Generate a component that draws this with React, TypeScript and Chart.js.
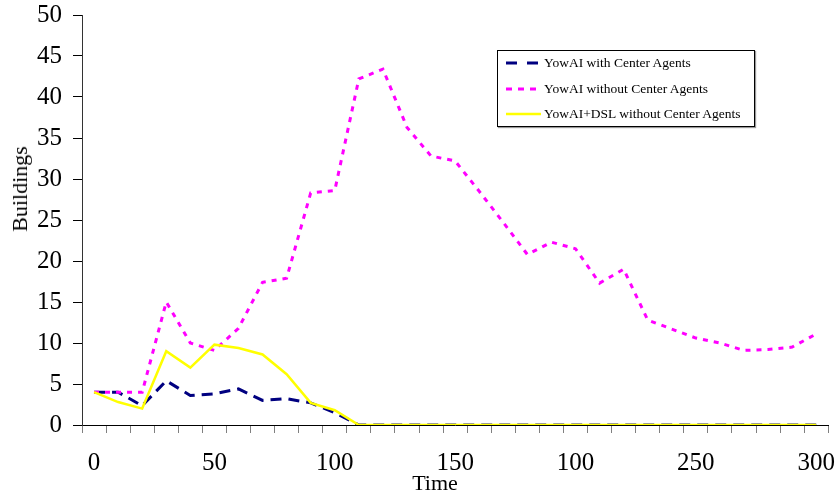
import React, { useEffect, useRef } from "react";
import { Chart, registerables } from "chart.js";

Chart.register(...registerables);

const categories = [0, 10, 20, 30, 40, 50, 60, 70, 80, 90, 100, 110, 120, 130, 140, 150, 160, 170, 180, 190, 200, 210, 220, 230, 240, 250, 260, 270, 280, 290, 300];
const tickLabels = ["0", "50", "100", "150", "100", "250", "300"];
const yTicks = [0, 5, 10, 15, 20, 25, 30, 35, 40, 45, 50];

const xTitle = "Time";
const yTitle = "Buildings";
const seriesNames = [
  "YowAI with Center Agents",
  "YowAI without Center Agents",
  "YowAI+DSL without Center Agents",
];

const withCenter = [4, 4, 2.35, 5.4, 3.6, 3.8, 4.4, 3.0, 3.2, 2.7, 1.5, 0, 0, 0, 0, 0, 0, 0, 0, 0, 0, 0, 0, 0, 0, 0, 0, 0, 0, 0, 0];
const withoutCenter = [4, 4, 4, 15, 10, 9.1, 11.8, 17.4, 17.9, 28.3, 28.6, 42.2, 43.4, 36.3, 32.8, 32.2, 28.5, 24.7, 20.8, 22.3, 21.5, 17.3, 19, 12.8, 11.7, 10.6, 10, 9.1, 9.2, 9.5, 11.1];
const dslWithout = [4, 2.8, 2.0, 9.0, 7.0, 9.8, 9.4, 8.6, 6.2, 2.7, 1.8, 0, 0, 0, 0, 0, 0, 0, 0, 0, 0, 0, 0, 0, 0, 0, 0, 0, 0, 0, 0];

const FONT = '"Liberation Serif", "Times New Roman", serif';
const NAVY = "#000080";
const MAGENTA = "#FF00FF";
const YELLOW = "#FFFF00";

function Sample({ color, dash, width }: { color: string; dash?: string; width: number }) {
  return (
    <svg width={36} height={8} style={{ position: "absolute", left: 8, top: -4 }}>
      <line x1={0} y1={4} x2={35} y2={4} stroke={color} strokeWidth={width} strokeDasharray={dash} />
    </svg>
  );
}

export default function App() {
  const ref = useRef<HTMLCanvasElement>(null);

  useEffect(() => {
    if (!ref.current) return;
    const chart = new Chart(ref.current, {
      type: "line",
      data: {
        labels: categories.map(String),
        datasets: [
          {
            label: seriesNames[2],
            data: dslWithout,
            borderColor: YELLOW,
            borderWidth: 2.5,
            pointRadius: 0,
            tension: 0,
            order: 0,
          },
          {
            label: seriesNames[1],
            data: withoutCenter,
            borderColor: MAGENTA,
            borderWidth: 3,
            borderDash: [5, 6],
            pointRadius: 0,
            tension: 0,
            order: 1,
          },
          {
            label: seriesNames[0],
            data: withCenter,
            borderColor: NAVY,
            borderWidth: 3,
            borderDash: [11, 7],
            pointRadius: 0,
            tension: 0,
            order: 2,
          },
        ],
      },
      options: {
        animation: false,
        responsive: false,
        devicePixelRatio: 1,
        layout: { padding: { left: 26, right: 2, top: 0, bottom: 3 } },
        plugins: {
          legend: { display: false },
          tooltip: { enabled: false },
        },
        scales: {
          x: {
            type: "category",
            offset: true,
            grid: {
              offset: true,
              drawOnChartArea: false,
              drawTicks: true,
              tickLength: 8,
              color: "#808080",
            },
            border: { display: true, color: "#000", width: 1 },
            ticks: {
              autoSkip: false,
              maxRotation: 0,
              minRotation: 0,
              padding: 0,
              color: "#000",
              font: { family: FONT, size: 25, lineHeight: 2.4 },
              callback: (_v: any, i: number) => (i % 5 === 0 ? tickLabels[i / 5] : ""),
            },
            title: { display: false },
          },
          y: {
            min: 0,
            max: 50,
            afterBuildTicks: (scale: any) => {
              scale.ticks = yTicks.map((v) => ({ value: v }));
            },
            grid: {
              drawOnChartArea: false,
              drawTicks: true,
              tickLength: 9,
              color: "#000",
            },
            border: { display: true, color: "#333", width: 1 },
            ticks: {
              padding: 11,
              color: "#000",
              font: { family: FONT, size: 25, lineHeight: 0.32 },
            },
            title: { display: false },
          },
        },
      },
    });
    return () => chart.destroy();
  }, []);

  const rowStyle = (top: number): React.CSSProperties => ({
    position: "absolute",
    left: 0,
    top,
    height: 0,
    width: "100%",
  });
  const textStyle: React.CSSProperties = {
    position: "absolute",
    left: 46,
    top: -9,
    fontFamily: FONT,
    fontSize: 13.5,
    lineHeight: "17px",
    whiteSpace: "nowrap",
    color: "#000",
  };
  const titleStyle: React.CSSProperties = {
    position: "absolute",
    fontFamily: FONT,
    fontSize: 22,
    lineHeight: "22px",
    whiteSpace: "nowrap",
    color: "#000",
  };

  return (
    <div style={{ position: "fixed", left: 0, top: 0, width: 835, height: 496, background: "#fff" }}>
      <canvas ref={ref} width={835} height={496} style={{ display: "block" }} />
      <div style={{ ...titleStyle, left: 435, top: 483, transform: "translate(-50%, -50%)" }}>{xTitle}</div>
      <div
        style={{
          ...titleStyle,
          left: 19.5,
          top: 189,
          transform: "translate(-50%, -50%) rotate(-90deg)",
        }}
      >
        {yTitle}
      </div>
      <div
        style={{
          position: "absolute",
          left: 497,
          top: 50,
          width: 256,
          height: 75,
          border: "1px solid #000",
          boxShadow: "1px 1px 1px #999",
          background: "transparent",
        }}
      >
        <div style={rowStyle(12)}>
          <Sample color={NAVY} width={3} dash="11 10" />
          <span style={textStyle}>{seriesNames[0]}</span>
        </div>
        <div style={rowStyle(38)}>
          <Sample color={MAGENTA} width={3} dash="6 6" />
          <span style={textStyle}>{seriesNames[1]}</span>
        </div>
        <div style={rowStyle(63)}>
          <Sample color={YELLOW} width={2.5} />
          <span style={textStyle}>{seriesNames[2]}</span>
        </div>
      </div>
    </div>
  );
}
